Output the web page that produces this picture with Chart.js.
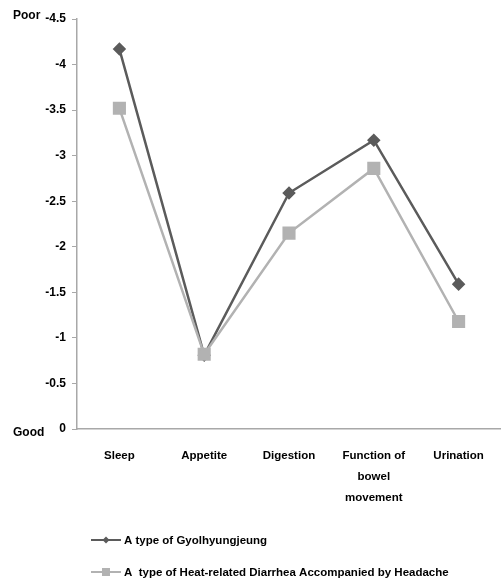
<!DOCTYPE html>
<html>
<head>
<meta charset="utf-8">
<script src="https://cdn.jsdelivr.net/npm/chart.js@4/dist/chart.umd.min.js"></script>
<style>
html,body{margin:0;padding:0;background:#fff;}
#wrap{position:relative;width:501px;height:579px;}
</style>
</head>
<body>
<div id="wrap"><canvas id="c" width="501" height="579"></canvas></div>
<script>
const categories = ["Sleep", "Appetite", "Digestion", ["Function of", "bowel", "movement"], "Urination"];
const gyolhyungjeung = [-4.17, -0.81, -2.59, -3.17, -1.59];
const heatDiarrhea = [-3.52, -0.82, -2.15, -2.86, -1.18];
const seriesNames = ["A type of Gyolhyungjeung", "A  type of Heat-related Diarrhea Accompanied by Headache"];
const yTickLabels = ["-4.5", "-4", "-3.5", "-3", "-2.5", "-2", "-1.5", "-1", "-0.5", "0"];
const yTickValues = [-4.5, -4, -3.5, -3, -2.5, -2, -1.5, -1, -0.5, 0];
const endLabels = ["Poor", "Good"];

const DARK = '#5b5b5b';
const LIGHT = '#b2b2b2';
const AXIS = '#a8a8a8';
const FONT = '"Liberation Sans", Arial, sans-serif';

const extraText = {
  id: 'extraText',
  afterDraw(chart) {
    const ctx = chart.ctx;
    const y = chart.scales.y;
    ctx.save();
    ctx.fillStyle = '#000';
    ctx.font = 'bold 12px ' + FONT;
    ctx.textAlign = 'left';
    ctx.textBaseline = 'middle';
    ctx.fillText(endLabels[0], 13, y.getPixelForValue(-4.5) - 3);
    ctx.fillText(endLabels[1], 13, y.getPixelForValue(0) + 4);

    // legend
    const rows = [
      {name: seriesNames[0], color: DARK, style: 'diamond', y: 540},
      {name: seriesNames[1], color: LIGHT, style: 'square', y: 572}
    ];
    ctx.font = 'bold 11.5px ' + FONT;
    rows.forEach(r => {
      ctx.strokeStyle = r.color;
      ctx.lineWidth = 2;
      ctx.beginPath();
      ctx.moveTo(91, r.y);
      ctx.lineTo(121, r.y);
      ctx.stroke();
      ctx.fillStyle = r.color;
      ctx.beginPath();
      if (r.style === 'diamond') {
        ctx.moveTo(106, r.y - 3.5);
        ctx.lineTo(109.5, r.y);
        ctx.lineTo(106, r.y + 3.5);
        ctx.lineTo(102.5, r.y);
        ctx.closePath();
      } else {
        ctx.rect(102, r.y - 4, 8, 8);
      }
      ctx.fill();
      ctx.fillStyle = '#000';
      ctx.fillText(r.name, 124, r.y + 1);
    });
    ctx.restore();
  }
};

new Chart(document.getElementById('c'), {
  type: 'line',
  data: {
    labels: categories,
    datasets: [
      {
        label: seriesNames[0],
        data: gyolhyungjeung,
        borderColor: DARK,
        backgroundColor: DARK,
        borderWidth: 2.5,
        pointStyle: 'rectRot',
        pointRadius: 5,
        pointHoverRadius: 5,
        tension: 0,
        order: 1
      },
      {
        label: seriesNames[1],
        data: heatDiarrhea,
        borderColor: LIGHT,
        backgroundColor: LIGHT,
        borderWidth: 2.5,
        pointStyle: 'rect',
        pointRadius: 7.5,
        pointHoverRadius: 7.5,
        tension: 0,
        order: 0
      }
    ]
  },
  options: {
    responsive: false,
    animation: false,
    devicePixelRatio: 1,
    layout: {autoPadding: false, padding: {top: 19, right: -3, bottom: 0, left: 0}},
    plugins: {legend: {display: false}, tooltip: {enabled: false}},
    scales: {
      x: {
        offset: true,
        grid: {display: false},
        border: {display: true, color: AXIS, width: 1.5},
        ticks: {
          color: '#000',
          font: {family: FONT, size: 11.5, weight: 'bold', lineHeight: 1.83},
          padding: 8,
          maxRotation: 0,
          autoSkip: false
        },
        afterFit(scale) { scale.height = 150; scale.paddingRight = 0; scale.paddingLeft = 0; }
      },
      y: {
        reverse: true,
        min: -4.5,
        max: 0,
        afterBuildTicks(scale) { scale.ticks = yTickValues.map(v => ({value: v})); },
        grid: {drawOnChartArea: false, drawTicks: true, tickLength: 5, color: AXIS, lineWidth: 1},
        border: {display: true, color: AXIS, width: 1.5},
        ticks: {
          color: '#000',
          font: {family: FONT, size: 12, weight: 'bold'},
          padding: 6,
          callback: (v, i) => yTickLabels[yTickValues.indexOf(v)]
        },
        afterFit(scale) { scale.width = 77; }
      }
    }
  },
  plugins: [extraText]
});
</script>
</body>
</html>
